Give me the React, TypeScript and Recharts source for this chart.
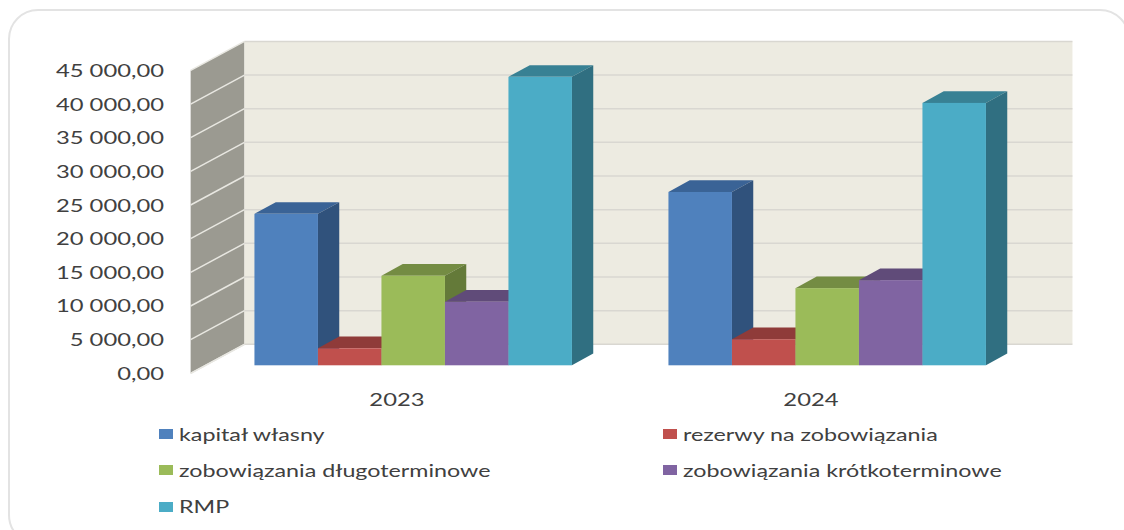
import React from 'react';
import { BarChart, Bar, XAxis, YAxis, CartesianGrid, Legend, ReferenceArea } from 'recharts';

const years = ['2023', '2024'];
const kapitalWlasny = [22500, 25750];
const rezerwy = [2530, 3870];
const dlugoterminowe = [13300, 11460];
const krotkoterminowe = [9450, 12650];
const rmp = [42850, 38980];
const yTicks = [0, 5000, 10000, 15000, 20000, 25000, 30000, 35000, 40000, 45000];

const data = years.map((year, i) => ({
  year,
  kapital: kapitalWlasny[i],
  rezerwy: rezerwy[i],
  dlugie: dlugoterminowe[i],
  krotkie: krotkoterminowe[i],
  rmp: rmp[i],
}));

const FONT = 'Lato, "Open Sans", sans-serif';
const TEXT = '#404040';
const TICK_STRETCH = 1.36;
const LEGEND_STRETCH = 1.33;

// 3d depth of the bars
const BAR_DX = 21.3;
const BAR_DY = 11.7;

// the walls sit around the plane the bars stand on
const FRONT_DX = -15.8;
const FRONT_DY = 8;
const BACK_DX = 38;
const BACK_DY = -21;

const formatValue = (v: number) =>
  v.toFixed(2).replace('.', ',').replace(/\B(?=(\d{3})+(?!\d))(?=.*,)/g, ' ');

const Box3D = (props: any) => {
  const { x, y, width, height, fill, topFill, sideFill } = props;
  const r = x + width;
  const b = y + height;
  return (
    <g>
      <polygon
        points={`${x},${y} ${x + BAR_DX},${y - BAR_DY} ${r + BAR_DX},${y - BAR_DY} ${r},${y}`}
        fill={topFill}
      />
      <polygon
        points={`${r},${y} ${r + BAR_DX},${y - BAR_DY} ${r + BAR_DX},${b - BAR_DY} ${r},${b}`}
        fill={sideFill}
      />
      <rect x={x} y={y} width={width} height={height} fill={fill} />
    </g>
  );
};

const Walls = (props: any) => {
  const { x, y, width, height } = props;
  const fx = x + FRONT_DX;
  const bx = x + BACK_DX;
  const b = y + height;
  return (
    <g>
      <polygon
        points={`${fx},${y + FRONT_DY} ${bx},${y + BACK_DY} ${bx},${b + BACK_DY} ${fx},${b + FRONT_DY}`}
        fill="#9b9a91"
      />
      <rect x={bx} y={y + BACK_DY} width={width} height={height} fill="#edebe1" />
      <line x1={fx} y1={b + FRONT_DY} x2={bx} y2={b + BACK_DY} stroke="#e4e4e0" strokeWidth={1.5} />
    </g>
  );
};

const GridLine = (props: any) => {
  const { x1, x2, y1 } = props;
  return (
    <g>
      <line
        x1={x1 + FRONT_DX}
        y1={y1 + FRONT_DY}
        x2={x1 + BACK_DX}
        y2={y1 + BACK_DY}
        stroke="#e8e7e1"
        strokeWidth={1.5}
      />
      <line x1={x1 + BACK_DX} y1={y1 + BACK_DY} x2={x2 + BACK_DX} y2={y1 + BACK_DY} stroke="#d9d7d1" strokeWidth={1.5} />
    </g>
  );
};

const YTick = ({ y, payload }: any) => (
  <text
    transform={`translate(164 ${y + 14.5}) scale(${TICK_STRETCH} 1)`}
    textAnchor="end"
    fontFamily={FONT}
    fontSize={17.5}
    fill={TEXT}
  >
    {formatValue(payload.value)}
  </text>
);

const XTick = ({ x, y, payload }: any) => (
  <text
    transform={`translate(${x - 16.5} ${y + 40.7}) scale(${TICK_STRETCH} 1)`}
    textAnchor="middle"
    fontFamily={FONT}
    fontSize={17.5}
    fill={TEXT}
  >
    {payload.value}
  </text>
);

const renderLegend = ({ payload }: any) => (
  <div style={{ display: 'grid', gridTemplateColumns: '504px 400px', gridAutoRows: '36.3px', fontFamily: FONT }}>
    {payload.map((item: any) => (
      <div key={item.value} style={{ display: 'flex', alignItems: 'center', position: 'relative' }}>
        <span style={{ width: 14, height: 10, background: item.color, flex: 'none' }} />
        <span
          style={{
            marginLeft: 6,
            fontSize: 17.5,
            color: TEXT,
            whiteSpace: 'nowrap',
            transform: `scaleX(${LEGEND_STRETCH})`,
            transformOrigin: 'left center',
          }}
        >
          {item.value}
        </span>
      </div>
    ))}
  </div>
);

export default function App() {
  return (
    <div style={{ position: 'absolute', left: 0, top: 0, width: 1124, height: 530, overflow: 'hidden', background: '#fff' }}>
      <div
        style={{
          position: 'absolute',
          left: 8,
          top: 9,
          width: 1122,
          height: 536,
          boxSizing: 'border-box',
          border: '2px solid #e3e3e3',
          borderRadius: 30,
        }}
      />
      <BarChart
        width={1124}
        height={530}
        data={data}
        margin={{ top: 62.4, right: 89.55, bottom: 124.7, left: 166.45 }}
        barCategoryGap={48.25}
        barGap={0}
        barSize={63.5}
        style={{ position: 'absolute', left: 0, top: 0 }}
      >
        <ReferenceArea y1={0} y2={45000} shape={<Walls />} ifOverflow="visible" zIndex={-200} />
        <CartesianGrid vertical={false} horizontal={(p: any) => <GridLine key={p.key} {...p} />} />
        <XAxis
          dataKey="year"
          height={40}
          axisLine={false}
          tickLine={false}
          tickSize={0}
          tickMargin={0}
          tick={<XTick />}
        />
        <YAxis
          domain={[0, 45000]}
          ticks={yTicks}
          width={40}
          axisLine={false}
          tickLine={false}
          interval={0}
          tick={<YTick />}
        />
        <Legend
          layout="horizontal"
          verticalAlign="middle"
          content={renderLegend}
          itemSorter={null}
          wrapperStyle={{ left: 159, top: 416, width: 904 }}
        />
        <Bar
          dataKey="kapital"
          name="kapitał własny"
          fill="#4f81bd"
          isAnimationActive={false}
          shape={<Box3D topFill="#3a6396" sideFill="#30527c" />}
        />
        <Bar
          dataKey="rezerwy"
          name="rezerwy na zobowiązania"
          fill="#c0504d"
          isAnimationActive={false}
          shape={<Box3D topFill="#8f3b39" sideFill="#7b3331" />}
        />
        <Bar
          dataKey="dlugie"
          name="zobowiązania długoterminowe"
          fill="#9bbb59"
          isAnimationActive={false}
          shape={<Box3D topFill="#748c43" sideFill="#647a39" />}
        />
        <Bar
          dataKey="krotkie"
          name="zobowiązania krótkoterminowe"
          fill="#8064a2"
          isAnimationActive={false}
          shape={<Box3D topFill="#604b79" sideFill="#533f69" />}
        />
        <Bar
          dataKey="rmp"
          name="RMP"
          fill="#4bacc6"
          isAnimationActive={false}
          shape={<Box3D topFill="#388194" sideFill="#306f81" />}
        />
      </BarChart>
    </div>
  );
}
